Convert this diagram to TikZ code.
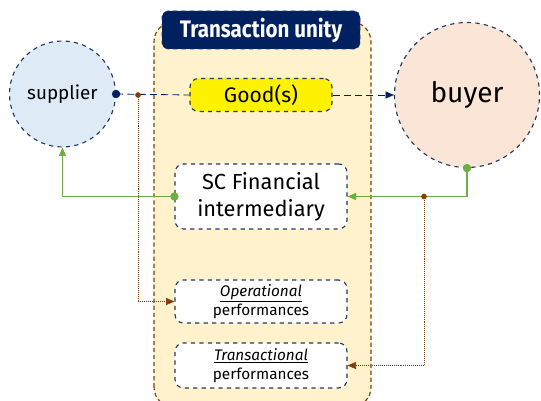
\documentclass[tikz,border=0pt]{standalone}
\usepackage{fontspec}
\setmainfont{Fira Sans}
\usepackage{xcolor}
\usetikzlibrary{arrows.meta, positioning, calc}

\definecolor{navy}{HTML}{002060}
\definecolor{nodeline}{HTML}{203864}
\definecolor{brownline}{HTML}{843C0C}
\definecolor{unityfill}{HTML}{FFF2CC}
\definecolor{greenline}{HTML}{70AD47}
\definecolor{supfill}{HTML}{DEEBF7}
\definecolor{buyfill}{HTML}{FBE5D6}

\begin{document}
\begin{tikzpicture}[x=0.025cm, y=0.025cm,
    actor/.style={circle, draw=nodeline, dashed, thick, inner sep=0pt},
    box/.style={rectangle, rounded corners=6pt, draw=nodeline, dashed, thick, fill=white,
      minimum width=172*0.025cm, align=center, inner sep=0pt},
    flow/.style={draw=navy, semithick, dash pattern=on 5pt off 3pt},
    money/.style={draw=greenline, thick},
    info/.style={draw=brownline, densely dotted},
    dot/.style={circle, fill=#1, inner sep=0pt, minimum size=5pt}]
          \useasboundingbox (0,0) rectangle (541,401);

          % transaction unity frame
          \draw[brownline, densely dashed, thick, fill=unityfill, rounded corners=14pt]
            (154,-6) rectangle (371,379);
          \node[rectangle, rounded corners=4pt, fill=navy, draw=nodeline, dashed,
            minimum width=198*0.025cm, minimum height=38*0.025cm, text=white,
            font=\fontsize{17}{17}\selectfont\bfseries] (unity) at (261,371)
            {\scalebox{0.86}[1]{Transaction unity}};

          \node[actor, fill=supfill, minimum size=106*0.025cm, font=\fontsize{13.4}{14}\selectfont]
            (supplier) at (62.5,307) {supplier};
          \node[actor, fill=buyfill, minimum size=145*0.025cm, font=\fontsize{20}{20}\selectfont]
            (buyer) at (467,306) {buyer};

          \node[box, fill=yellow, minimum width=142*0.025cm, minimum height=33*0.025cm,
            font=\fontsize{15}{15}\selectfont] (goods) at (261,306) {Good(s)};
          \node[box, minimum height=65*0.025cm, font=\fontsize{15.5}{19}\selectfont]
            (scfi) at (261,204.5) {SC Financial\\intermediary};
          \node[box, minimum height=43*0.025cm, font=\fontsize{10.9}{13.5}\selectfont]
            (oper) at (261,99.5) {\underline{\textit{Operational}}\\performances};
          \node[box, minimum height=45*0.025cm, font=\fontsize{10.9}{13.5}\selectfont]
            (trans) at (261,35.5) {\underline{\textit{Transactional}}\\performances};

          \coordinate (supout) at (supplier.east);
          \coordinate (sd) at (138,306);
          \coordinate (bd) at (424,204.5);

          % flow of goods
          \draw[flow] (supout) -- (goods.west);
          \draw[flow, -{Triangle[length=6pt, width=5pt]}] (goods.east) -- (buyer.west);

          % financial flows
          \draw[money, -{Triangle[length=6pt, width=5pt]}] (scfi.west) -| (supplier.south);
          \draw[money, -{Triangle[length=6pt, width=5pt]}] (buyer.south) |- (scfi.east);

          % performance information
          \draw[info, -{Triangle[length=6pt, width=5pt]}] (sd) |- (oper.west);
          \draw[info, -{Triangle[length=6pt, width=5pt]}] (bd) |- (trans.east);

          \node[dot=navy, minimum size=6pt] at (supout) {};
          \node[dot=brownline, minimum size=4pt] at (sd) {};
          \node[dot=brownline, minimum size=4pt] at (bd) {};
          \node[dot=greenline, minimum size=6pt] at (scfi.west) {};
          \node[dot=greenline, minimum size=6pt] at (buyer.south) {};
        \end{tikzpicture}
\end{document}
